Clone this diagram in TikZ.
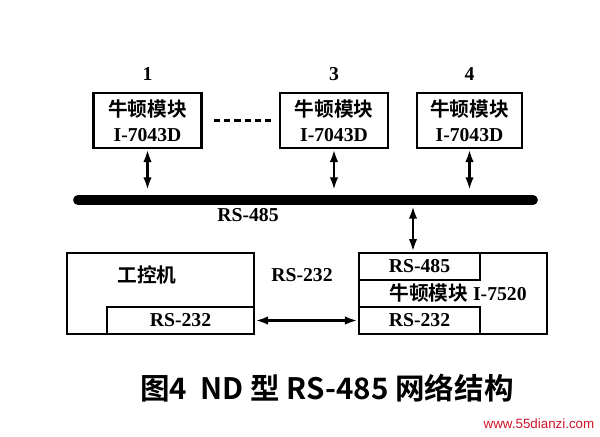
\documentclass[tikz,border=0pt]{standalone}
\usepackage{fontspec}
\setmainfont{Liberation Serif}
\newfontfamily\cjk{Noto Sans CJK SC}[BoldFont={Noto Sans CJK SC Bold}]
\newfontfamily\wmfont{Liberation Sans}
\usetikzlibrary{positioning, arrows.meta}
\definecolor{wmred}{RGB}{205,20,40}

\begin{document}
\begin{tikzpicture}[x=0.025cm, y=-0.025cm, line width=1.9pt,
	modbox/.style={draw, minimum width=2.7cm, minimum height=1.375cm, align=center, inner sep=0pt, font=\bfseries\fontsize{14}{18}\selectfont},
	bigbox/.style={draw, minimum width=4.7cm, minimum height=2.025cm, inner sep=0pt},
	portbox/.style={draw, minimum height=0.675cm, inner sep=0pt, font=\bfseries\fontsize{14}{16}\selectfont},
	lbl/.style={font=\bfseries\fontsize{14}{16}\selectfont, inner sep=0pt},
	biarrow/.style={{Latex[length=9pt,width=6pt]}-{Latex[length=9pt,width=6pt]}, line width=1.8pt}]
	\useasboundingbox (0,0) rectangle (600,436);
	% Modules on the bus
	\node[modbox] (m1) at (147.5,120.5) {{\cjk 牛顿模块}\\I-7043D};
	\node[modbox] (m3) at (334,120.5) {{\cjk 牛顿模块}\\I-7043D};
	\node[modbox, minimum width=2.625cm] (m4) at (469.5,120.5) {{\cjk 牛顿模块}\\I-7043D};
	\node[lbl, above=0.25cm of m1] (n1) {1};
	\node[lbl, above=0.25cm of m3] (n3) {3};
	\node[lbl, above=0.25cm of m4] (n4) {4};
	\draw[line width=2pt, dash pattern=on 4.5pt off 2.8pt, shorten <=0.275cm, shorten >=0.2cm] (m1.east) -- (m3.west);
	% The RS-485 bus
	\coordinate (busL) at (78,200);
	\coordinate (busR) at (533,200);
	\coordinate (tap) at (413,200);
	\draw[line width=7pt, line cap=round] (busL) -- (busR);
	\node[lbl] (bus) at (248,215) {RS-485};
	\draw[biarrow, shorten >=0.25cm] (m1.south) -- (m1.south |- busL);
	\draw[biarrow, shorten >=0.25cm] (m3.south) -- (m3.south |- busL);
	\draw[biarrow, shorten >=0.25cm] (m4.south) -- (m4.south |- busL);
	% Industrial PC
	\node[bigbox, minimum width=4.675cm] (ipc) at (160.5,293.5) {};
	\node[portbox, minimum width=3.675cm, anchor=south east] (ipc232) at (ipc.south east) {RS-232};
	\node[lbl] (ipcname) at (147,275) {\cjk 工控机};
	% Converter I-7520
	\node[bigbox] (conv) at (453,293.5) {};
	\node[portbox, minimum width=3.025cm, anchor=north west] (conv485) at (conv.north west) {RS-485};
	\node[portbox, minimum width=3.025cm, anchor=south west] (conv232) at (conv.south west) {RS-232};
	\node[lbl] (convname) at (458,293) {{\cjk 牛顿模块} I-7520};
	\node[lbl] (link) at (302,275) {RS-232};
	\draw[biarrow, shorten <=0.15cm] (tap) -- (tap |- conv.north);
	\draw[biarrow] (ipc232.east) -- (conv232.west);
	% Caption
	\node[font=\cjk\bfseries\fontsize{21}{24}\selectfont, inner sep=0pt] (cap) at (327,388) {图4\ \ ND 型 RS-485 网络结构};
	\node[font=\wmfont\fontsize{9.5}{11}\selectfont, text=wmred, inner sep=0pt] (wm) at (539,424) {www.55dianzi.com};
\end{tikzpicture}
\end{document}
